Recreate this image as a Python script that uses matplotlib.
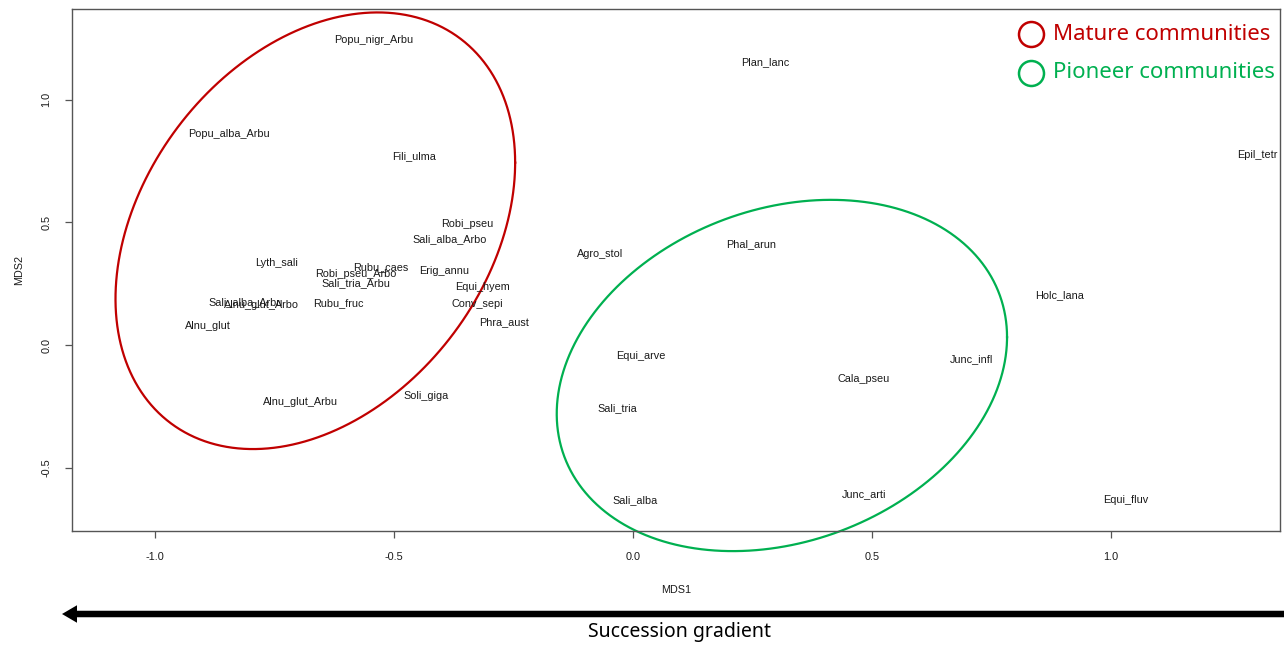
import numpy as np
import matplotlib
matplotlib.use("Agg")
import matplotlib.pyplot as plt
from matplotlib.lines import Line2D

# ==============================================================
# data (NMDS species scores)
species = ["Popu_nigr_Arbu", "Plan_lanc", "Popu_alba_Arbu", "Fili_ulma", "Epil_tetr",
           "Robi_pseu", "Sali_alba_Arbo", "Phal_arun", "Agro_stol", "Lyth_sali",
           "Rubu_caes", "Erig_annu", "Robi_pseu_Arbo", "Sali_tria_Arbu", "Equi_hyem",
           "Holc_lana", "Sali_alba_Arbu", "Alnu_glut_Arbo", "Rubu_fruc", "Conv_sepi",
           "Phra_aust", "Alnu_glut", "Equi_arve", "Junc_infl", "Cala_pseu",
           "Soli_giga", "Alnu_glut_Arbu", "Sali_tria", "Junc_arti", "Sali_alba",
           "Equi_fluv"]
mds1 = [-0.541, 0.277, -0.844, -0.457, 1.306,
        -0.347, -0.383, 0.248, -0.068, -0.746,
        -0.528, -0.394, -0.580, -0.580, -0.314,
        0.892, -0.809, -0.777, -0.616, -0.325,
        -0.269, -0.888, 0.017, 0.708, 0.484,
        -0.432, -0.696, -0.033, 0.484, 0.005,
        1.032]
mds2 = [1.243, 1.154, 0.860, 0.770, 0.775,
        0.493, 0.432, 0.412, 0.371, 0.334,
        0.318, 0.302, 0.289, 0.253, 0.236,
        0.204, 0.175, 0.163, 0.171, 0.167,
        0.094, 0.077, -0.045, -0.057, -0.139,
        -0.208, -0.232, -0.257, -0.607, -0.632,
        -0.632]

# group ellipses: centre, half-extent along x / y, correlation
groups = ["Mature communities", "Pioneer communities"]
group_colors = ["#C00000", "#00B050"]
ell_cx = [-0.664, 0.312]
ell_cy = [0.466, -0.124]
ell_sx = [0.418, 0.471]
ell_sy = [0.890, 0.716]
ell_r = [0.312, 0.218]

# ==============================================================
# Visualization
FIGWIDTH = 12.84
FIGHEIGHT = 6.46
LABELFONT = 7.8

plt.rcParams['font.family'] = ['Liberation Sans', 'DejaVu Sans']

f = plt.figure(figsize=(FIGWIDTH, FIGHEIGHT), dpi=100)
ax = f.add_axes([72/1284, 1-531/646, (1280-72)/1284, (531-9)/646])

for name, x, y in zip(species, mds1, mds2):
    ax.text(x, y, name, ha="center", va="center", fontsize=LABELFONT, color="#1a1a1a")

t = np.linspace(0, 2*np.pi, 400)
for cx, cy, sx, sy, r, col in zip(ell_cx, ell_cy, ell_sx, ell_sy, ell_r, group_colors):
    cov = np.array([[sx**2, r*sx*sy], [r*sx*sy, sy**2]])
    L = np.linalg.cholesky(cov)
    pts = L @ np.vstack([np.cos(t), np.sin(t)])
    ax.plot(cx + pts[0], cy + pts[1], color=col, lw=1.6, clip_on=False)

ax.set_xlim(-1.173, 1.354)
ax.set_ylim(-0.758, 1.370)
ax.set_xticks([-1.0, -0.5, 0.0, 0.5, 1.0])
ax.set_yticks([-0.5, 0.0, 0.5, 1.0])
ax.set_xticklabels(["-1.0", "-0.5", "0.0", "0.5", "1.0"], fontsize=LABELFONT)
ax.set_yticklabels(["-0.5", "0.0", "0.5", "1.0"], fontsize=LABELFONT, rotation=90, va="center")
ax.tick_params(length=5, width=0.9, color="#555555", pad=10, labelcolor="#1a1a1a")
for s in ax.spines.values():
    s.set_color("#555555")
    s.set_linewidth(1.0)
ax.set_xlabel("MDS1", fontsize=LABELFONT, labelpad=17, color="#1a1a1a")
ax.set_ylabel("MDS2", fontsize=LABELFONT, labelpad=12, color="#1a1a1a")

# legend drawn by hand
leg_y = [34, 73]
for lbl, col, yy in zip(groups, group_colors, leg_y):
    f.add_artist(Line2D([1031/1284], [1-yy/646], marker="o", ms=18, mfc="none",
                        mec=col, mew=1.8, transform=f.transFigure))
    f.text(1053/1284, 1-yy/646, lbl, color=col, fontsize=16, family="Noto Sans",
           ha="left", va="center")

# succession gradient arrow
ax.annotate("", xy=(62, 646-614), xytext=(1284, 646-614), xycoords="figure pixels",
            textcoords="figure pixels",
            arrowprops=dict(arrowstyle="simple,tail_width=0.26,head_width=0.7,head_length=0.6",
                            lw=0, fc="black", ec="none", mutation_scale=18,
                            shrinkA=0, shrinkB=0))
f.text(680/1284, 1-632/646, "Succession gradient", fontsize=14, family="Noto Sans",
       ha="center", va="center")

f.savefig("out.png", dpi=100)
